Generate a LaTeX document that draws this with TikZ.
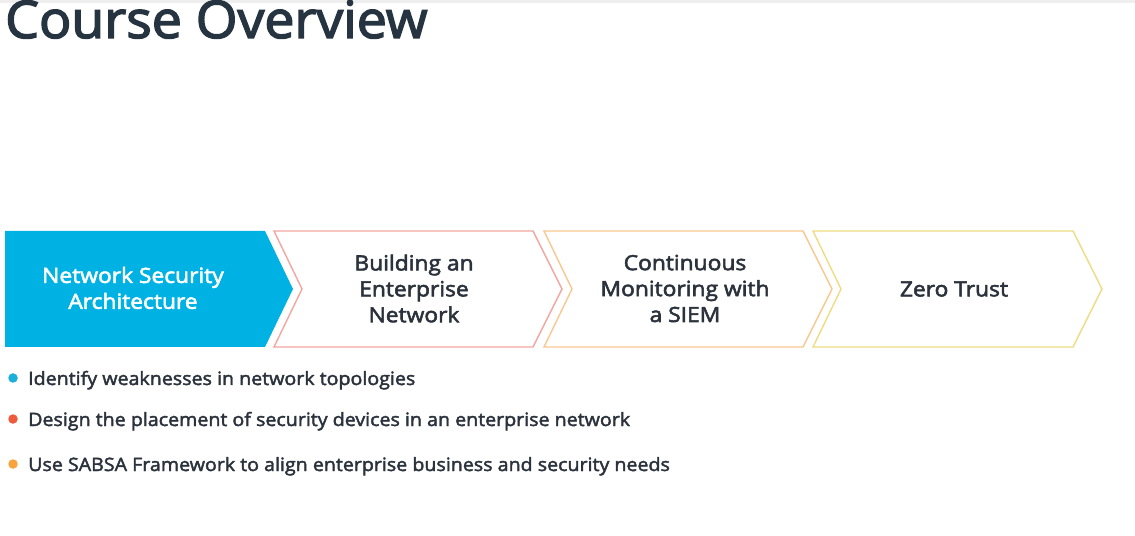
\documentclass[tikz,border=0pt]{standalone}
\usepackage{fontspec}
\setmainfont{Open Sans}
\newfontfamily\headfont{Open Sans}[FakeBold=2.8, FakeStretch=1.035]
\newfontfamily\stagefont{Open Sans}[FakeBold=2.6, FakeStretch=1.09]
\newfontfamily\itemfont{Open Sans}[FakeBold=2.3, FakeStretch=1.065]
\definecolor{ink}{HTML}{2B323C}
\definecolor{titleink}{HTML}{263340}
\definecolor{cyanfill}{HTML}{00B2E3}
\definecolor{roseline}{HTML}{F2A6A0}
\definecolor{peachline}{HTML}{F8C890}
\definecolor{strawline}{HTML}{EEDC84}
\definecolor{dotblue}{HTML}{1BAFD9}
\definecolor{dotred}{HTML}{EF5A3C}
\definecolor{dotorange}{HTML}{F8A43C}
\definecolor{topband}{HTML}{EEEEEE}
\tikzset{
  chevline/.style={line width=1.4bp, line join=miter, fill=white},
  stagetext/.style={font=\stagefont\fontsize{21}{26}\selectfont, align=center, text=ink, inner sep=0pt},
  bullettext/.style={font=\itemfont\fontsize{18.5}{22}\selectfont, text=ink, anchor=base west, inner sep=0pt},
  bulletdot/.style={circle, inner sep=0pt, minimum size=9.5bp}
}
\begin{document}
\begin{tikzpicture}[x=1bp,y=-1bp]
\useasboundingbox (0,0) rectangle (1135,536);
\fill[white] (0,0) rectangle (1135,536);
\fill[topband] (0,0) rectangle (1135,3);

% heading
\node[font=\headfont\fontsize{52}{60}\selectfont, text=titleink, anchor=base west, inner sep=0pt]
  (title) at (5,38) {Course Overview};

% chevron row
\fill[cyanfill] (5,231) -- (265,231) -- (293,289) -- (265,347) -- (5,347) -- cycle;
\draw[chevline, draw=roseline] (274,231) -- (533,231) -- (562,289) -- (533,347) -- (274,347) -- (302,289) -- cycle;
\draw[chevline, draw=peachline] (544,231) -- (803,231) -- (832,289) -- (803,347) -- (544,347) -- (572,289) -- cycle;
\draw[chevline, draw=strawline] (813,231) -- (1073,231) -- (1102,289) -- (1073,347) -- (813,347) -- (841,289) -- cycle;

\node[stagetext, text=white] (s1) at (133,288) {Network Security\\Architecture};
\node[stagetext] (s2) at (414,288.5) {Building an\\Enterprise\\Network};
\node[stagetext] (s3) at (685,288.5) {Continuous\\Monitoring with\\a SIEM};
\node[stagetext] (s4) at (954,289) {Zero Trust};

% objectives
\node[bulletdot, fill=dotblue] (d1) at (13,378) {};
\node[bulletdot, fill=dotred] (d2) at (13,419) {};
\node[bulletdot, fill=dotorange] (d3) at (13,464) {};
\node[bullettext] (b1) at (28,385) {Identify weaknesses in network topologies};
\node[bullettext] (b2) at (28,426) {Design the placement of security devices in an enterprise network};
\node[bullettext] (b3) at (28,471) {Use SABSA Framework to align enterprise business and security needs};
\end{tikzpicture}
\end{document}
